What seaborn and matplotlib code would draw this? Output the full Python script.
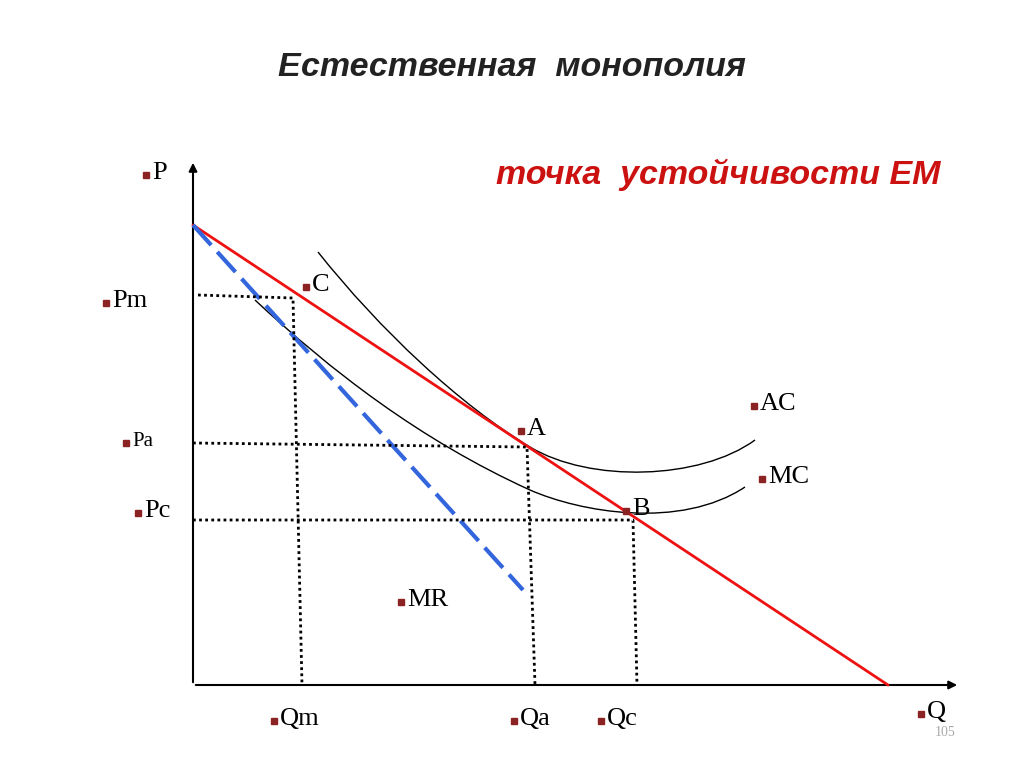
import matplotlib
matplotlib.use("Agg")
import matplotlib.pyplot as plt
import seaborn as sns
import numpy as np
from matplotlib.path import Path
from matplotlib.patches import PathPatch, FancyArrowPatch

sns.set_theme(style="white")
plt.rcParams['font.family'] = ['Liberation Serif', 'DejaVu Sans']

# diagram geometry (in canvas units)
demand_x = [193, 888]; demand_y = [225, 685]
mr_x = [193, 523]; mr_y = [225, 590]
ac_pts = [(318, 252), (380, 330), (460, 405), (530, 447), (590, 483), (700, 480), (755, 440)]
mc_pts = [(255, 300), (330, 370), (420, 440), (530, 490), (580, 512), (680, 530), (745, 487)]
dotted = [([198, 293, 302], [295, 298, 685]),
          ([193, 527, 535], [443, 447, 685]),
          ([193, 633, 637], [520, 520, 685])]
labels = [("P", 150, 173, 19), ("Pm", 110, 301, 19), ("Pa", 130, 441, 15), ("Pc", 142, 511, 19),
          ("C", 310, 285, 19), ("A", 525, 429, 19), ("B", 630, 509, 19), ("AC", 758, 404, 19),
          ("MC", 766, 477, 19), ("MR", 405, 600, 19), ("Qm", 278, 719, 19), ("Qa", 518, 719, 19),
          ("Qc", 605, 719, 19), ("Q", 925, 712, 19)]

fig = plt.figure(figsize=(10.24, 7.67), dpi=100)
ax = fig.add_axes([0, 0, 1, 1])
ax.set_xlim(0, 1024); ax.set_ylim(767, 0); ax.axis("off")

ax.add_patch(FancyArrowPatch((193, 685), (193, 160), arrowstyle='-|>', mutation_scale=12, color='black', lw=1.5))
ax.add_patch(FancyArrowPatch((193, 685), (960, 685), arrowstyle='-|>', mutation_scale=12, color='black', lw=1.5))

sns.lineplot(x=demand_x, y=demand_y, ax=ax, color='#ee1111', lw=2, sort=False)
sns.lineplot(x=mr_x, y=mr_y, ax=ax, color='#3366dd', lw=3, sort=False)
ax.lines[-1].set_dashes([6.5, 2.2])
for xs, ys in dotted:
    ax.plot(xs, ys, color='black', lw=2, ls=(0, (1, 1.2)))

codes = [Path.MOVETO] + [Path.CURVE4] * 6
for pts in (ac_pts, mc_pts):
    ax.add_patch(PathPatch(Path(pts, codes), fill=False, lw=1, color='black'))

for t, x, y, s in labels:
    ax.plot(x - 4, y + 2, marker='s', ms=5, color='#8b2323', ls='')
    ax.text(x + 2, y, t, fontsize=s, va='center', ha='left', color='black')
ax.text(945, 733, "105", fontsize=10, color='#aaaaaa', ha='center', va='center')

ax.text(512, 67, "Естественная  монополия", fontsize=24.5, fontweight='bold', style='italic',
        family=['Liberation Sans', 'DejaVu Sans'], ha='center', va='center', color='#222222')
ax.text(718, 175, "точка  устойчивости ЕМ", fontsize=24.5, fontweight='bold', style='italic',
        family=['Liberation Sans', 'DejaVu Sans'], ha='center', va='center', color='#cc1111')

fig.savefig("out.png", dpi=100)
